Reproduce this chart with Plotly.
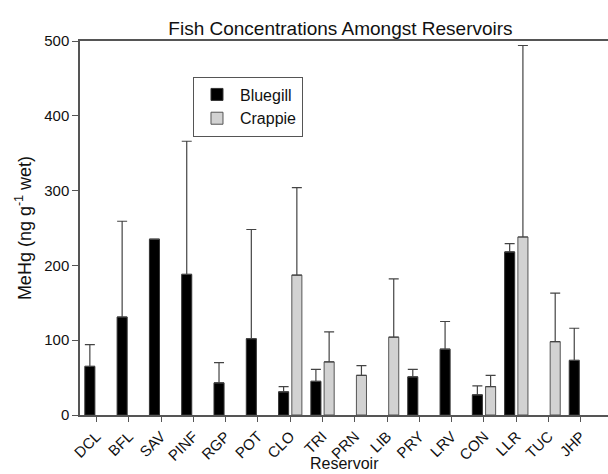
import plotly.graph_objects as go

reservoirs = ["DCL", "BFL", "SAV", "PINF", "RGP", "POT", "CLO", "TRI",
              "PRN", "LIB", "PRY", "LRV", "CON", "LLR", "TUC", "JHP"]

bluegill = [65, 131, 235, 188, 43, 102, 31, 45,
            None, None, 51, 88, 27, 218, None, 73]
bluegill_err = [29, 128, None, 178, 27, 146, 7, 16,
                None, None, 10, 37, 12, 11, None, 43]

crappie = [None, None, None, None, None, None, 187, 71,
           53, 104, None, None, 38, 238, 98, None]
crappie_err = [None, None, None, None, None, None, 117, 40,
               13, 78, None, None, 15, 256, 65, None]

FONT = "Arial, Liberation Sans, sans-serif"
AXIS = "#555555"


def zeros_like(vals):
    return [0 if v is not None else None for v in vals]


fig = go.Figure()
fig.add_trace(go.Bar(
    name="Bluegill", x=reservoirs, y=bluegill,
    marker=dict(color="#000000", line=dict(color="#333333", width=1)),
    error_y=dict(type="data", symmetric=False, array=bluegill_err,
                 arrayminus=zeros_like(bluegill_err),
                 color="#444444", thickness=1.2, width=5),
))
fig.add_trace(go.Bar(
    name="Crappie", x=reservoirs, y=crappie,
    marker=dict(color="#d2d2d2", line=dict(color="#555555", width=1)),
    error_y=dict(type="data", symmetric=False, array=crappie_err,
                 arrayminus=zeros_like(crappie_err),
                 color="#444444", thickness=1.2, width=5),
))

fig.update_layout(
    width=608, height=474,
    margin=dict(l=80, r=0, t=41, b=59),
    paper_bgcolor="white", plot_bgcolor="white",
    barmode="group", bargap=0.18, bargroupgap=0.24,
    font=dict(family=FONT, size=15, color="#111111"),
    title=dict(text="Fish Concentrations Amongst Reservoirs",
               x=0.56, xanchor="center", y=0.94, yanchor="middle",
               font=dict(size=19, family=FONT)),
    legend=dict(x=0.214, y=0.905, xanchor="left", yanchor="top",
                bordercolor="#555555", borderwidth=1, bgcolor="white",
                font=dict(size=16), tracegroupgap=2, itemwidth=36),
    showlegend=True,
    annotations=[dict(text="Reservoir", xref="paper", yref="paper",
                      x=0.5, y=-0.155, xanchor="center", yanchor="bottom",
                      showarrow=False, font=dict(size=16),
                      borderpad=0)],
)

fig.update_xaxes(
    range=[-0.51, 15.84], showline=True, linecolor=AXIS, linewidth=1.5,
    mirror=True, ticks="outside", ticklen=5, tickcolor=AXIS,
    tickangle=-45, tickfont=dict(size=15), automargin=False,
    showgrid=False, zeroline=False,
)
fig.update_yaxes(
    range=[0, 500], tickvals=[0, 100, 200, 300, 400, 500],
    showline=True, linecolor=AXIS, linewidth=1.5, automargin=False,
    ticks="outside", ticklen=6, tickcolor=AXIS, tickfont=dict(size=15),
    title=dict(text="MeHg (ng g<sup>-1</sup> wet)", font=dict(size=18), standoff=8),
    showgrid=False, zeroline=False,
)

fig.write_html("out.html")
